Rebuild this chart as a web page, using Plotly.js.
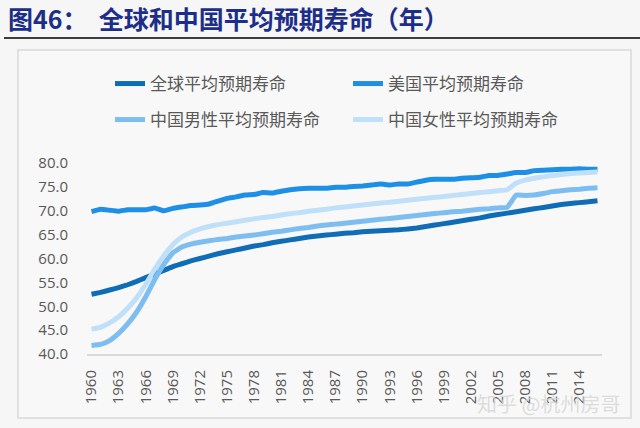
<!DOCTYPE html>
<html>
<head>
<meta charset="utf-8">
<script src="https://cdn.plot.ly/plotly-3.0.1.min.js"></script>
<style>html,body{margin:0;padding:0;background:#f6f6f6;}#chart{width:640px;height:428px;}</style>
</head>
<body>
<div id="chart"></div>
<script>
const years = [];
for (let y = 1960; y <= 2016; y++) years.push(String(y));

const seriesNames = ['全球平均预期寿命', '美国平均预期寿命', '中国男性平均预期寿命', '中国女性平均预期寿命'];

const worldLife = [52.5,52.9,53.4,53.9,54.5,55.2,56.0,56.8,57.5,58.3,
  58.9,59.5,60.0,60.5,61.0,61.4,61.8,62.2,62.6,62.9,
  63.3,63.6,63.9,64.2,64.5,64.7,64.9,65.1,65.3,65.4,
  65.6,65.7,65.8,65.9,66.0,66.2,66.4,66.7,67.0,67.3,
  67.6,67.9,68.2,68.5,68.9,69.2,69.5,69.8,70.1,70.4,
  70.7,71.0,71.3,71.5,71.7,71.9,72.1];

const usLife = [69.8,70.3,70.1,69.9,70.2,70.2,70.2,70.6,70.0,70.5,
  70.8,71.1,71.2,71.4,72.0,72.6,72.9,73.3,73.4,73.8,
  73.7,74.1,74.4,74.6,74.7,74.7,74.7,74.9,74.9,75.1,
  75.2,75.4,75.6,75.4,75.6,75.6,76.0,76.4,76.6,76.6,
  76.6,76.8,76.9,77.0,77.4,77.4,77.7,78.0,78.0,78.4,
  78.5,78.6,78.7,78.7,78.8,78.7,78.7];

const chinaMaleLife = [41.8,42.0,42.8,44.3,46.3,48.8,52.0,55.6,58.8,61.2,
  62.4,63.0,63.4,63.7,64.0,64.2,64.5,64.7,64.9,65.2,
  65.5,65.7,66.0,66.3,66.5,66.8,67.0,67.2,67.4,67.6,
  67.8,68.0,68.2,68.4,68.6,68.8,69.0,69.2,69.4,69.6,
  69.8,69.9,70.1,70.3,70.4,70.6,70.7,73.3,73.2,73.3,
  73.6,74.0,74.2,74.4,74.5,74.7,74.8];

const chinaFemaleLife = [45.2,45.6,46.5,47.8,49.6,51.8,54.6,57.8,60.6,62.9,
  64.5,65.5,66.2,66.7,67.1,67.4,67.7,68.0,68.3,68.6,
  68.8,69.1,69.4,69.6,69.9,70.1,70.3,70.6,70.8,71.0,
  71.2,71.4,71.6,71.8,72.0,72.2,72.4,72.6,72.8,73.0,
  73.2,73.4,73.6,73.8,74.0,74.2,74.4,75.8,76.4,76.8,
  77.1,77.4,77.6,77.8,77.9,78.0,78.1];

const xTickLabels = ['1960','1963','1966','1969','1972','1975','1978','1981','1984','1987',
  '1990','1993','1996','1999','2002','2005','2008','2011','2014'];
const yTickVals = [40,45,50,55,60,65,70,75,80];

const colors = ['#0f6cb6', '#1e8fe6', '#7dbdf0', '#bfe0f8'];
const allSeries = [worldLife, usLife, chinaMaleLife, chinaFemaleLife];
const legendIds = ['legend', 'legend', 'legend2', 'legend2'];

const W = 640, H = 428;
const M = {l: 87, r: 38, t: 163, b: 74};
const pw = W - M.l - M.r, ph = H - M.t - M.b;
const px = x => (x - M.l) / pw;
const py = y => (H - M.b - y) / ph;

const traces = allSeries.map((vals, i) => ({
  type: 'scatter', mode: 'lines', x: years, y: vals, name: seriesNames[i],
  legend: legendIds[i],
  line: {color: colors[i], width: 5, shape: 'spline', smoothing: 0.3},
  hoverinfo: 'skip'
}));

const legendBase = {
  orientation: 'h', xanchor: 'left', yanchor: 'middle',
  font: {family: '"Noto Sans CJK SC", sans-serif', size: 17, color: '#595959'},
  entrywidth: 193, entrywidthmode: 'pixels', bgcolor: 'rgba(0,0,0,0)', itemwidth: 30
};

const layout = {
  width: W, height: H,
  margin: M,
  paper_bgcolor: '#f6f6f6',
  plot_bgcolor: 'rgba(0,0,0,0)',
  font: {family: '"Open Sans", "Noto Sans CJK SC", sans-serif', color: '#595959'},
  showlegend: true,
  legend: Object.assign({}, legendBase, {x: px(110), y: py(84)}),
  legend2: Object.assign({}, legendBase, {x: px(110), y: py(120)}),
  xaxis: {
    type: 'category', range: [-0.5, years.length - 0.5],
    tickmode: 'array', tickvals: xTickLabels, ticktext: xTickLabels,
    tickangle: -90, ticks: '', showgrid: false, zeroline: false,
    showline: true, linecolor: '#d9d9d9', linewidth: 2,
    tickfont: {family: '"Open Sans", sans-serif', size: 15, color: '#595959'},
    ticklabelstandoff: 8
  },
  yaxis: {
    range: [40, 80], tickmode: 'array', tickvals: yTickVals,
    ticktext: yTickVals.map(v => v.toFixed(1)),
    ticks: '', showgrid: false, zeroline: false, showline: false,
    tickfont: {family: '"Open Sans", sans-serif', size: 15, color: '#595959'},
    ticklabelstandoff: 18
  },
  shapes: [
    {type: 'rect', xref: 'paper', yref: 'paper', x0: px(18), x1: px(631), y0: py(50), y1: py(418),
      line: {color: '#d9d9d9', width: 1.5}, fillcolor: '#f8f8f8', layer: 'below'},
    {type: 'line', xref: 'paper', yref: 'paper', x0: px(4), x1: px(640), y0: py(38), y1: py(38),
      line: {color: '#3c3c3c', width: 2}}
  ],
  annotations: [
    {xref: 'paper', yref: 'paper', x: px(6), y: py(18), xanchor: 'left', yanchor: 'middle',
      text: '<b>图46：  全球和中国平均预期寿命（年）</b>', showarrow: false,
      font: {family: '"Noto Sans CJK SC", sans-serif', size: 25, color: '#1c2e8a'}},
    {xref: 'paper', yref: 'paper', x: px(622), y: py(403), xanchor: 'right', yanchor: 'middle',
      text: '知乎 @杭州房哥', showarrow: false,
      font: {family: '"Noto Sans CJK SC", sans-serif', size: 20, color: 'rgba(215,215,215,0.85)'}}
  ]
};

Plotly.newPlot('chart', traces, layout, {staticPlot: true, displayModeBar: false});
</script>
</body>
</html>
